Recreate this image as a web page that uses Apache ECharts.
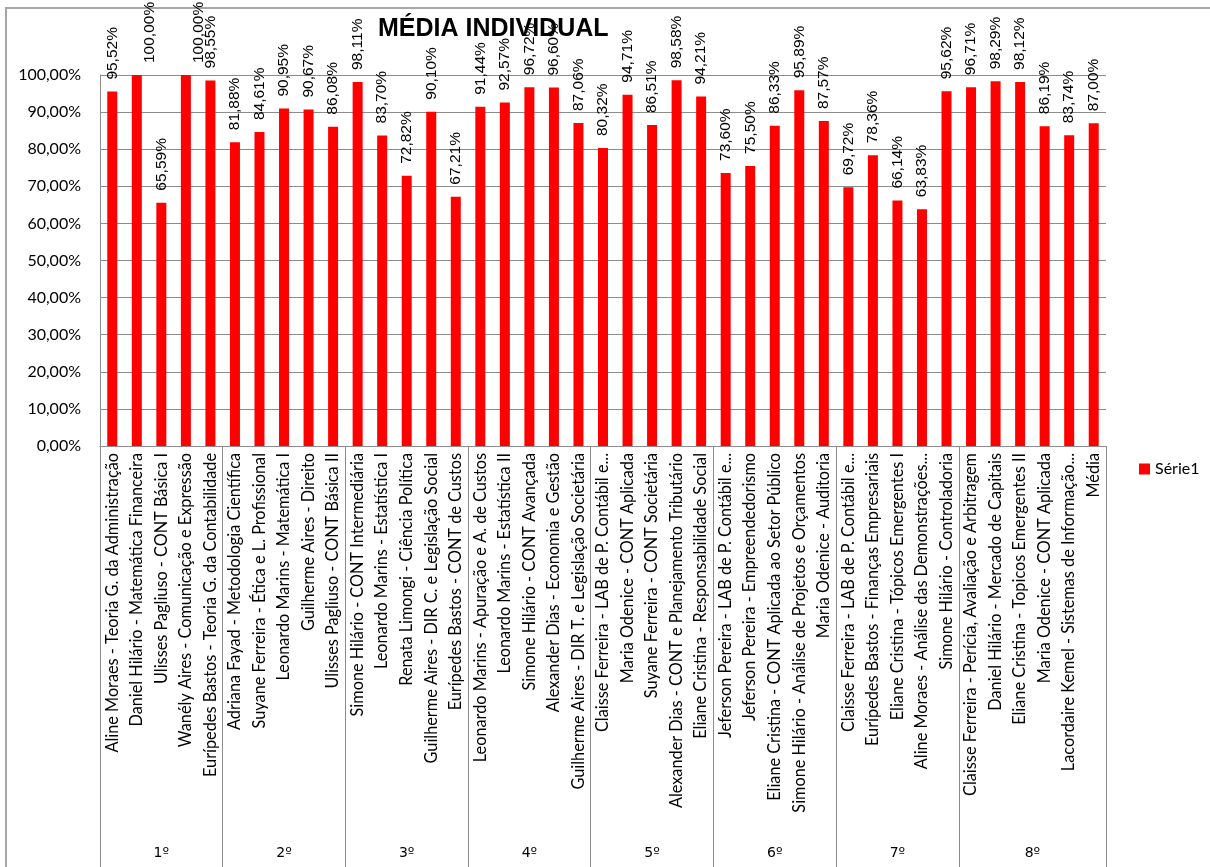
<!DOCTYPE html>
<html>
<head>
<meta charset="utf-8">
<title>MÉDIA INDIVIDUAL</title>
<script src="https://cdn.jsdelivr.net/npm/echarts@6.0.0/dist/echarts.min.js"></script>
<style>
  html, body { margin: 0; padding: 0; background: #fff; }
  #chart { width: 1210px; height: 867px; }
</style>
</head>
<body>
<div id="chart"></div>
<script>
// disciplinas (professor - matéria), na ordem do gráfico
var disciplinas = [
  'Aline Moraes - Teoria G. da Administração',
  'Daniel Hilário - Matemática Financeira',
  'Ulisses Pagliuso - CONT Básica I',
  'Wanély Aires - Comunicação e Expressão',
  'Eurípedes Bastos - Teoria G. da Contabilidade',
  'Adriana Fayad - Metodologia Científica',
  'Suyane Ferreira - Ética e L. Profissional',
  'Leonardo Marins - Matemática I',
  'Guilherme Aires - Direito',
  'Ulisses Pagliuso - CONT Básica II',
  'Simone Hilário - CONT Intermediária',
  'Leonardo Marins - Estatística I',
  'Renata Limongi - Ciência Política',
  'Guilherme Aires - DIR C. e Legislação Social',
  'Eurípedes Bastos - CONT de Custos',
  'Leonardo Marins - Apuração e A. de Custos',
  'Leonardo Marins - Estatística II',
  'Simone Hilário - CONT Avançada',
  'Alexander Dias - Economia e Gestão',
  'Guilherme Aires - DIR T. e Legislação Societária',
  'Claisse Ferreira - LAB de P. Contábil e...',
  'Maria Odenice - CONT Aplicada',
  'Suyane Ferreira - CONT Societária',
  'Alexander Dias - CONT e Planejamento Tributário',
  'Eliane Cristina - Responsabilidade Social',
  'Jeferson Pereira - LAB de P. Contábil e...',
  'Jeferson Pereira - Empreendedorismo',
  'Eliane Cristina - CONT Aplicada ao Setor Público',
  'Simone Hilário - Análise de Projetos e Orçamentos',
  'Maria Odenice - Auditoria',
  'Claisse Ferreira - LAB de P. Contábil e...',
  'Eurípedes Bastos - Finanças Empresariais',
  'Eliane Cristina - Tópicos Emergentes I',
  'Aline Moraes - Análise das Demonstrações...',
  'Simone Hilário - Controladoria',
  'Claisse Ferreira - Perícia, Avaliação e Arbitragem',
  'Daniel Hilário - Mercado de Capitais',
  'Eliane Cristina - Topicos Emergentes II',
  'Maria Odenice - CONT Aplicada',
  'Lacordaire Kemel - Sistemas de Informação...',
  'Média'
];

// média individual (%)
var serie1 = [
  95.52, 100.00, 65.59, 100.00, 98.55,
  81.88, 84.61, 90.95, 90.67, 86.08,
  98.11, 83.70, 72.82, 90.10, 67.21,
  91.44, 92.57, 96.72, 96.60, 87.06,
  80.32, 94.71, 86.51, 98.58, 94.21,
  73.60, 75.50, 86.33, 95.89, 87.57,
  69.72, 78.36, 66.14, 63.83, 95.62,
  96.71, 98.29, 98.12, 86.19, 83.74, 87.00
];

// períodos e quantas disciplinas cada um tem
var periodos = ['1º', '2º', '3º', '4º', '5º', '6º', '7º', '8º'];
var qtdPorPeriodo = [5, 5, 5, 5, 5, 5, 5, 6];

var yTicks = { min: 0, max: 100, interval: 10 };

// eixo dos períodos: meia-posição por ponto, assim o rótulo fica no meio do grupo
var meias = [];
var divisas = [];
var ini = 0;
for (var i = 0; i <= disciplinas.length * 2; i++) meias.push('');
periodos.forEach(function (p, k) {
  divisas.push(ini * 2);
  meias[ini * 2 + qtdPorPeriodo[k]] = p;
  ini += qtdPorPeriodo[k];
});
divisas.push(ini * 2);

function pct(v) {
  return v.toFixed(2).replace('.', ',') + '%';
}

var cinza = '#8c8c8c';
var fonteCal = 'Lato, "Open Sans", sans-serif';

var myChart = echarts.init(document.getElementById('chart'));
myChart.setOption({
  animation: false,
  backgroundColor: '#fff',
  title: {
    text: 'MÉDIA INDIVIDUAL',
    left: 373,
    top: 12,
    textStyle: { fontFamily: '"Liberation Sans", Arial, sans-serif', fontWeight: 'bold', fontSize: 25, color: '#000' }
  },
  legend: {
    data: ['Série1'],
    left: 1134,
    top: 456,
    icon: 'rect',
    itemWidth: 11,
    itemHeight: 11,
    textStyle: { fontFamily: fonteCal, fontSize: 16, color: '#000' }
  },
  graphic: [
    {
      type: 'rect',
      z: -10,
      shape: { x: 6, y: 8, width: 1300, height: 1000 },
      style: { fill: null, stroke: '#a6a6a6', lineWidth: 2 }
    }
  ],
  grid: {
    left: 100,
    right: 104,
    top: 75,
    bottom: 421,
    outerBoundsMode: 'none'
  },
  xAxis: [
    {
      type: 'category',
      data: disciplinas,
      axisLine: { lineStyle: { color: cinza } },
      axisTick: { show: false },
      axisLabel: {
        interval: 0,
        rotate: 90,
        margin: 7,
        fontFamily: fonteCal,
        fontSize: 16.3,
        color: '#000'
      }
    },
    {
      type: 'category',
      position: 'bottom',
      boundaryGap: false,
      data: meias,
      axisLine: { show: false },
      axisTick: {
        show: true,
        length: 425,
        interval: function (idx) { return divisas.indexOf(idx) >= 0; },
        lineStyle: { color: cinza }
      },
      axisLabel: {
        interval: function (idx, v) { return v !== ''; },
        margin: 400,
        fontFamily: '"DejaVu Sans", sans-serif',
        fontSize: 14,
        color: '#000'
      }
    }
  ],
  yAxis: {
    type: 'value',
    min: yTicks.min,
    max: yTicks.max,
    interval: yTicks.interval,
    axisLine: { show: true, lineStyle: { color: cinza } },
    axisTick: { show: false },
    splitLine: { lineStyle: { color: cinza } },
    axisLabel: {
      margin: 19,
      fontFamily: fonteCal,
      fontSize: 16,
      color: '#000',
      formatter: function (v) { return pct(v); }
    }
  },
  series: [
    {
      name: 'Série1',
      type: 'bar',
      barWidth: 10,
      itemStyle: { color: '#ff0000' },
      data: serie1,
      label: {
        show: true,
        position: 'top',
        rotate: 90,
        align: 'left',
        verticalAlign: 'middle',
        distance: 12,
        fontFamily: '"Liberation Sans", Arial, sans-serif',
        fontSize: 15.5,
        color: '#000',
        formatter: function (p) { return pct(p.value); }
      },
      // rótulo não pode passar do topo do gráfico
      labelLayout: function (params) {
        var r = params.labelRect;
        if (r.y < 15) return { dy: 15 - r.y };
        return {};
      }
    }
  ]
});
</script>
</body>
</html>
